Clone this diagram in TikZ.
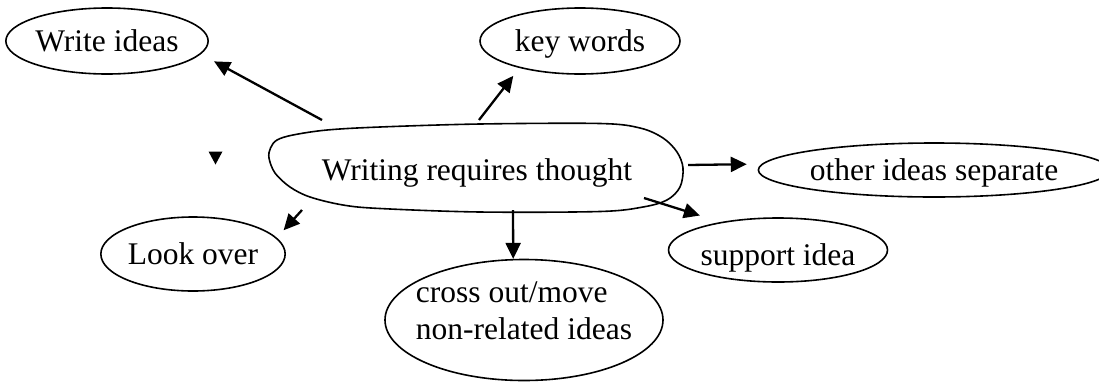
\documentclass[tikz,border=0pt]{standalone}
\usepackage{fontspec}
\setmainfont{Liberation Serif}
\usetikzlibrary{shapes.geometric,arrows.meta}
\begin{document}
\begin{tikzpicture}[x=1pt,y=-1pt,
  every node/.style={font=\fontsize{31.5}{37}\selectfont},
  ell/.style={ellipse,draw,line width=1.6pt,inner sep=0pt,text height=21.5pt,text depth=0pt},
  arr/.style={line width=2.3pt,-{Triangle[length=16pt,width=15pt]}},
  blob/.style={line width=1.6pt}]
\useasboundingbox (0,0) rectangle (1099,381);
% central node
\draw[blob] plot[smooth cycle,tension=0.55] coordinates {
  (269,158) (270.5,148) (277,140) (293,135) (327,130) (380,127) (480,124)
  (600,123.5) (640,128) (663,138) (677,152) (683,168) (680,187) (667,200)
  (643,207) (600,211.5) (480,212) (380,208.5) (343,205) (310,197) (290,187)
  (275,173)};
\node[anchor=base,inner sep=0pt] (c) at (477,180) {Writing requires thought};
% outer nodes
\node[ell,minimum width=196pt,minimum height=66pt] (wi) at (107,41) {Write ideas};
\node[ell,minimum width=200pt,minimum height=66pt] (kw) at (580,41) {key words};
\node[ell,minimum width=328pt,minimum height=54pt] (ois) at (934,170) {other ideas separate};
\node[ell,minimum width=194pt,minimum height=64pt,text height=30pt] (si) at (778,250) {support idea};
\node[ell,minimum width=170pt,minimum height=74pt] (lo) at (193,254) {Look over};
\node[ellipse,draw,line width=1.6pt,minimum width=278pt,minimum height=121pt] (co) at (524,320) {};
\node[align=left,inner sep=0pt] (cot) at (524,311) {cross out/move\\non-related ideas};
% stray arrowhead
\fill (208.5,151.5) -- (222.5,151.5) -- (215.5,164.5) -- cycle;
% tails
\coordinate (t1) at (322,120);
\coordinate (t2) at (479,120);
\coordinate (t3) at (688,165);
\coordinate (t4) at (644,198);
\coordinate (t5) at (302,210);
\coordinate (t6) at (513,210);
% connectors
\draw[arr,shorten >=15pt] (t1) -- (wi.-8.6);
\draw[arr,shorten >=9.9pt] (t2) -- (kw.-156.8);
\draw[arr,shorten >=15pt] (t3) -- (ois.178.2);
\draw[arr,shorten >=21.7pt] (t4) -- (si.154.5);
\draw[arr,shorten >=10pt] (t5) -- (lo.11.1);
\draw[arr] (t6) -- (co.100.25);
\end{tikzpicture}
\end{document}
